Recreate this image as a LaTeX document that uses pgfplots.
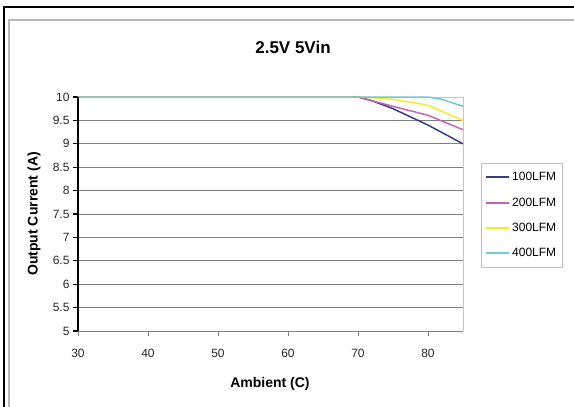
\documentclass[border=0pt]{standalone}
\usepackage{fontspec}
\setmainfont{Liberation Sans}
\usepackage{pgfplots}
\pgfplotsset{compat=1.18}
\definecolor{c100}{HTML}{3A3A8C}
\definecolor{c200}{HTML}{C264B4}
\definecolor{c300}{HTML}{F4EE1E}
\definecolor{c400}{HTML}{70C8D8}
\definecolor{gridc}{HTML}{808080}
\begin{document}
\begin{tikzpicture}
\path[use as bounding box] (0pt,0pt) rectangle (574pt,407pt);
% frame
\draw[black, line width=2.5pt] (4pt,0pt) -- (4pt,400pt) -- (574pt,400pt);
\draw[gray!55, line width=1.5pt] (9pt,0pt) -- (9pt,387pt) -- (574pt,387pt);
\node[font=\bfseries\fontsize{17}{20}\selectfont] at (293pt,360pt) {2.5V 5Vin};
\node[rotate=90, font=\bfseries\fontsize{14}{16}\selectfont] at (34pt,193pt) {Output Current (A)};
\node[font=\bfseries\fontsize{14}{16}\selectfont] at (270pt,23pt) {Ambient (C)};
\begin{axis}[
  at={(78pt,76pt)}, anchor=south west,
  width=385pt, height=234pt, scale only axis,
  xmin=30, xmax=85, ymin=5, ymax=10,
  clip=false,
  xtick={30,40,50,60,70,80},
  ytick={5,5.5,6,6.5,7,7.5,8,8.5,9,9.5,10},
  /pgf/number format/assume math mode=true,
  ticklabel style={font=\fontsize{12}{14}\selectfont, text=black!85},
  xticklabel style={yshift=-10pt},
  tick align=outside,
  major tick length=5pt,
  xtick pos=bottom, ytick pos=left,
  xtick style={gridc, line width=0.6pt},
  ytick style={black, line width=1.2pt},
  axis line style={draw=none},
  ymajorgrids,
  grid style={gridc, line width=0.7pt},
  legend style={at={(axis description cs:1.047,0.718)}, anchor=north west,
    draw=gray!50, line width=0.6pt, font=\fontsize{12}{14}\selectfont,
    row sep=11.5pt, inner xsep=4pt, inner ysep=7pt},
  legend cell align=left,
  legend image code/.code={\draw[#1, line width=1.8pt] (0pt,0pt) -- (23pt,0pt);},
]
\draw[gray!45, line width=0.8pt] (rel axis cs:0,1) -- (rel axis cs:1,1) -- (rel axis cs:1,0);
\draw[gridc, line width=0.8pt] (rel axis cs:0,0) -- (rel axis cs:1,0);
\addplot[c100, line width=1.5pt] coordinates {(30,10) (70,10) (72,9.92) (75,9.75) (80,9.4) (85,9.0)};
\addplot[c200, line width=1.5pt] coordinates {(30,10) (70,10) (75,9.8) (80,9.61) (85,9.3)};
\addplot[c300, line width=1.5pt] coordinates {(30,10) (71,10) (75,9.95) (78,9.88) (80,9.82) (85,9.5)};
\addplot[c400, line width=1.5pt] coordinates {(30,10) (80,10) (82,9.95) (85,9.8)};
\legend{100LFM,200LFM,300LFM,400LFM}
\draw[black, line width=2pt] (rel axis cs:0,0) -- (rel axis cs:0,1);
\end{axis}
\end{tikzpicture}
\end{document}
